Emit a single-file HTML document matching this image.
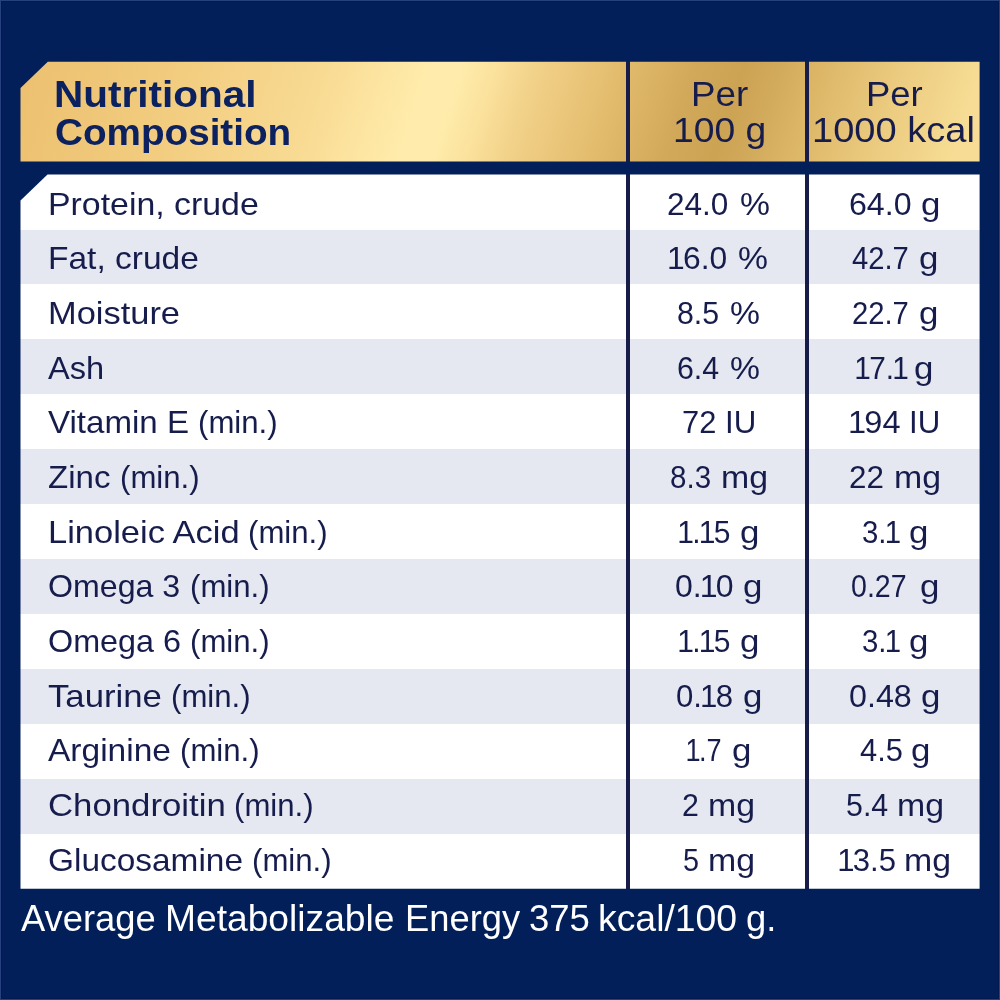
<!DOCTYPE html>
<html lang="en"><head><meta charset="utf-8"><title>Nutritional Composition</title>
<style>
html,body{margin:0;padding:0}
body{width:1000px;height:1000px;background:#021f5a;position:relative;overflow:hidden;font-family:"Liberation Sans",Arial,sans-serif;color:#161c4c}
.edge{position:absolute;left:0;top:0;width:998px;height:998px;border:1px solid #27407e;box-shadow:inset 0 0 0 1px #011a52}
.head,.body,.foot{position:absolute;left:20px;width:960px;will-change:transform}
.head{top:61px;height:101px;background:linear-gradient(108deg,#ecc070 0%,#f1ca7c 14%,#f8da92 30.6%,#fee8a6 39%,#ffecac 42%,#ffecac 44.5%,#fbe29d 48%,#f1d087 52.7%,#e1b96a 61.8%,#d2a95a 68%,#cca253 73.1%,#d3ab5c 77%,#dcb566 80.5%,#ebcb7f 89%,#f6dc94 97%);
clip-path:polygon(27.8px 0.7px,959.6px 0.7px,959.6px 100.4px,0.5px 100.4px,0.5px 27.1px)}
.body{top:174px;height:715px;background:#fff;
clip-path:polygon(27.5px 0.6px,959.6px 0.6px,959.6px 714.8px,0.5px 714.8px,0.5px 26.4px)}
.row{position:absolute;left:0;width:100%;height:54.93px}
.row:nth-child(even){background:#e5e8f0}
.vl{position:absolute;top:0;bottom:0;width:4px;background:#181c49}

.v1{left:606px} .v2{left:785.2px}
.foot{top:889px;height:70px;margin:0;color:#fff;font-size:37.3px}
span{position:absolute;white-space:nowrap;line-height:1;transform-origin:0 0}
.row span{font-size:31.3px}
b{font-weight:inherit;margin:0 -.055em 0 -.06em}
.h1 span{font-size:37px;font-weight:bold;color:#0c2260}
.h2 span,.h3 span{font-size:35.9px}
</style></head><body>
<div class="edge"></div>
<div class="head">
<div class="h1"><span style="left:34.46px;top:14.9px;transform:scaleX(1.0949)">Nutritional</span> <span style="left:34.73px;top:52.8px;transform:scaleX(1.0448)">Composition</span></div>
<div class="h2"><span style="left:671.43px;top:15.9px;transform:scaleX(1.0239)">Per</span> <span style="left:653.14px;top:52px;transform:scaleX(1.0383)">100 g</span></div>
<div class="h3"><span style="left:846.15px;top:15.9px;transform:scaleX(1.0163)">Per</span> <span style="left:791.89px;top:52px;transform:scaleX(1.0599)">1000 kcal</span></div>
<i class="vl v1"></i><i class="vl v2"></i>
</div>
<div class="body">
<div class="row" style="top:0.6px"><span style="left:28.2px;top:14.1px;transform:scaleX(1.0817)">Protein, crude</span> <span style="left:647.14px;top:14.1px;transform:scaleX(1.0077)">24.0</span> <span style="left:719.57px;top:14.1px;transform:scaleX(1.0757)">%</span> <span style="left:829.21px;top:14.1px;transform:scaleX(1.0266)">64.0</span> <span style="left:901.06px;top:14.1px;transform:scaleX(1.1143)">g</span></div>
<div class="row" style="top:55.53px"><span style="left:28.2px;top:13.85px;transform:scaleX(1.0703)">Fat, crude</span> <span style="left:649.18px;top:13.85px;transform:scaleX(1.0155)"><b>1</b>6.0</span> <span style="left:717.77px;top:13.85px;transform:scaleX(1.0757)">%</span> <span style="left:832px;top:13.85px;transform:scaleX(0.9333)">42.7</span> <span style="left:899.11px;top:13.85px;transform:scaleX(1.1143)">g</span></div>
<div class="row" style="top:110.46px"><span style="left:28.2px;top:13.6px;transform:scaleX(1.0998)">Moisture</span> <span style="left:657.19px;top:13.6px;transform:scaleX(0.9683)">8.5</span> <span style="left:709.82px;top:13.6px;transform:scaleX(1.0757)">%</span> <span style="left:831.65px;top:13.6px;transform:scaleX(0.9333)">22.7</span> <span style="left:898.76px;top:13.6px;transform:scaleX(1.1143)">g</span></div>
<div class="row" style="top:165.39px"><span style="left:28.2px;top:13.35px;transform:scaleX(1.0396)">Ash</span> <span style="left:656.95px;top:13.35px;transform:scaleX(0.9683)">6.4</span> <span style="left:709.82px;top:13.35px;transform:scaleX(1.0757)">%</span> <span style="left:836.21px;top:13.35px;transform:scaleX(0.9516)"><b>1</b>7.<b>1</b></span> <span style="left:894.41px;top:13.35px;transform:scaleX(1.1143)">g</span></div>
<div class="row" style="top:220.32px"><span style="left:28.2px;top:13.1px;transform:scaleX(1.0568)">Vitamin E</span> <span style="left:178.31px;top:13.1px;transform:scaleX(0.9961)">(min.)</span> <span style="left:662.12px;top:13.1px;transform:scaleX(0.9858)">72</span> <span style="left:704.71px;top:13.1px;transform:scaleX(0.9981)">IU</span> <span style="left:829.5px;top:13.1px;transform:scaleX(1.0387)"><b>1</b>94</span> <span style="left:889.31px;top:13.1px;transform:scaleX(0.9981)">IU</span></div>
<div class="row" style="top:275.25px"><span style="left:28.2px;top:12.85px;transform:scaleX(1.0558)">Zinc</span> <span style="left:100.31px;top:12.85px;transform:scaleX(0.9961)">(min.)</span> <span style="left:649.82px;top:12.85px;transform:scaleX(0.9439)">8.3</span> <span style="left:701.14px;top:12.85px;transform:scaleX(1.0810)">mg</span> <span style="left:828.9px;top:12.85px;transform:scaleX(1.0016)">22</span> <span style="left:873.54px;top:12.85px;transform:scaleX(1.0810)">mg</span></div>
<div class="row" style="top:330.18px"><span style="left:28.2px;top:12.6px;transform:scaleX(1.1017)">Linoleic Acid</span> <span style="left:228.31px;top:12.6px;transform:scaleX(0.9961)">(min.)</span> <span style="left:659.1px;top:12.6px;transform:scaleX(0.9580)"><b>1</b>.<b>1</b>5</span> <span style="left:719.71px;top:12.6px;transform:scaleX(1.1143)">g</span> <span style="left:842.03px;top:12.6px;transform:scaleX(0.9393)">3.<b>1</b></span> <span style="left:888.61px;top:12.6px;transform:scaleX(1.1143)">g</span></div>
<div class="row" style="top:385.11px"><span style="left:28.2px;top:12.35px;transform:scaleX(1.0271)">Omega 3</span> <span style="left:169.51px;top:12.35px;transform:scaleX(0.9961)">(min.)</span> <span style="left:655.32px;top:12.35px;transform:scaleX(1.0228)">0.<b>1</b>0</span> <span style="left:723.41px;top:12.35px;transform:scaleX(1.1143)">g</span> <span style="left:831.01px;top:12.35px;transform:scaleX(0.9121)">0.27</span> <span style="left:899.66px;top:12.35px;transform:scaleX(1.1143)">g</span></div>
<div class="row" style="top:440.04px"><span style="left:28.2px;top:12.1px;transform:scaleX(1.0334)">Omega 6</span> <span style="left:170.31px;top:12.1px;transform:scaleX(0.9961)">(min.)</span> <span style="left:659.1px;top:12.1px;transform:scaleX(0.9580)"><b>1</b>.<b>1</b>5</span> <span style="left:719.71px;top:12.1px;transform:scaleX(1.1143)">g</span> <span style="left:842.03px;top:12.1px;transform:scaleX(0.9393)">3.<b>1</b></span> <span style="left:888.61px;top:12.1px;transform:scaleX(1.1143)">g</span></div>
<div class="row" style="top:494.97px"><span style="left:28.2px;top:11.85px;transform:scaleX(1.1091)">Taurine</span> <span style="left:151.11px;top:11.85px;transform:scaleX(0.9961)">(min.)</span> <span style="left:656.26px;top:11.85px;transform:scaleX(0.9954)">0.<b>1</b>8</span> <span style="left:722.51px;top:11.85px;transform:scaleX(1.1143)">g</span> <span style="left:829.06px;top:11.85px;transform:scaleX(1.0300)">0.48</span> <span style="left:901.46px;top:11.85px;transform:scaleX(1.1143)">g</span></div>
<div class="row" style="top:549.9px"><span style="left:28.2px;top:11.6px;transform:scaleX(1.0705)">Arginine</span> <span style="left:160.31px;top:11.6px;transform:scaleX(0.9961)">(min.)</span> <span style="left:666.87px;top:11.6px;transform:scaleX(0.8649)"><b>1</b>.7</span> <span style="left:712.06px;top:11.6px;transform:scaleX(1.1143)">g</span> <span style="left:839.76px;top:11.6px;transform:scaleX(0.9855)">4.5</span> <span style="left:891.31px;top:11.6px;transform:scaleX(1.1143)">g</span></div>
<div class="row" style="top:604.83px"><span style="left:28.2px;top:11.35px;transform:scaleX(1.1108)">Chondroitin</span> <span style="left:214.31px;top:11.35px;transform:scaleX(0.9961)">(min.)</span> <span style="left:662.4px;top:11.35px;transform:scaleX(0.9684)">2</span> <span style="left:688.29px;top:11.35px;transform:scaleX(1.0810)">mg</span> <span style="left:825.79px;top:11.35px;transform:scaleX(0.9697)">5.4</span> <span style="left:876.94px;top:11.35px;transform:scaleX(1.0810)">mg</span></div>
<div class="row" style="top:659.76px"><span style="left:28.2px;top:11.1px;transform:scaleX(1.0676)">Glucosamine</span> <span style="left:232.31px;top:11.1px;transform:scaleX(0.9961)">(min.)</span> <span style="left:662.85px;top:11.1px;transform:scaleX(0.9220)">5</span> <span style="left:688.14px;top:11.1px;transform:scaleX(1.0810)">mg</span> <span style="left:818.76px;top:11.1px;transform:scaleX(0.9936)"><b>1</b>3.5</span> <span style="left:883.94px;top:11.1px;transform:scaleX(1.0810)">mg</span></div>
<i class="vl v1"></i><i class="vl v2"></i>
</div>
<p class="foot"><span style="left:0.96px;top:11.3px;transform:scaleX(0.9747)">Average</span> <span style="left:145.01px;top:11.3px;transform:scaleX(0.9969)">Metabolizable</span> <span style="left:385.08px;top:11.3px;transform:scaleX(0.9739)">Energy</span> <span style="left:508.53px;top:11.3px;transform:scaleX(0.9789)">375</span> <span style="left:578.3px;top:11.3px;transform:scaleX(1.0015)">kcal/100</span> <span style="left:725.74px;top:11.3px;transform:scaleX(0.9752)">g.</span></p>
</body></html>
